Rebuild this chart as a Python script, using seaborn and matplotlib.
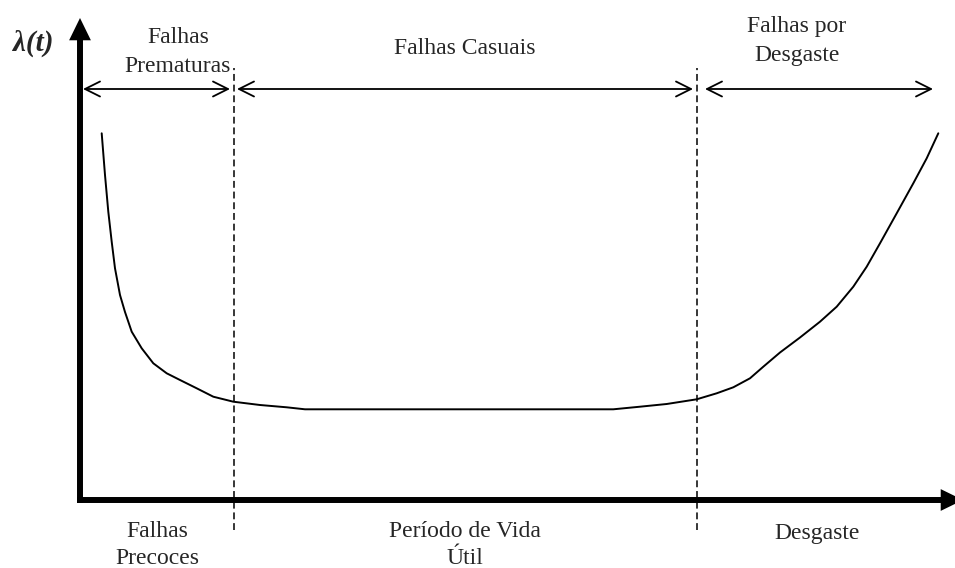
import matplotlib
matplotlib.use("Agg")
import matplotlib.pyplot as plt
import seaborn as sns
import pandas as pd

# Bathtub curve (time units = px from origin, lambda units = px above axis)
t_values = [21.7, 25, 28.3, 31.7, 35, 40, 45, 51.7, 61.7, 73.3, 86.7, 100,
            116.7, 133.3, 153.3, 180, 206.7, 225,
            533.3, 560, 586.7, 616.7, 636.7, 653.3, 670, 683.3, 700, 720,
            740, 756.7, 773.3, 786.7, 800, 816.7, 833.3, 846.7, 858.3]
lam_values = [366.7, 325, 288.3, 258.3, 231.7, 205, 188, 168.3, 151.7, 136.7, 126.7, 120,
              111.7, 103.3, 98.3, 95, 92.7, 90.7,
              90.7, 93.3, 96, 100.7, 106.7, 112.7, 121.7, 133.3, 147.5, 162.5,
              178.3, 193.3, 213.3, 233.3, 256.7, 286.7, 316.7, 341.7, 366.7]

phase_bounds = [154, 617]          # dashed separators
top_labels = ["Falhas\nPrematuras", "Falhas Casuais", "Falhas por\nDesgaste"]
bottom_labels = ["Falhas\nPrecoces", "Período de Vida\nÚtil", "Desgaste"]
y_label = "λ(t)"

sns.set_theme(style="white")
plt.rcParams["font.family"] = ["Liberation Serif", "DejaVu Serif"]

fig = plt.figure(figsize=(9.55, 5.68), dpi=100)
ax = fig.add_axes([0, 0, 1, 1])
ax.set_xlim(-80, 875)
ax.set_ylim(-68, 500)
ax.axis("off")

df = pd.DataFrame({"t": t_values, "lam": lam_values})
sns.lineplot(data=df, x="t", y="lam", sort=False, color="black", lw=1.4, ax=ax)

# axes with arrows
axis_arrow = dict(arrowstyle="-|>,head_length=0.45,head_width=0.22",
                  lw=4.3, color="black", shrinkA=0, shrinkB=0,
                  mutation_scale=20, capstyle="butt", joinstyle="miter")
ax.annotate("", xy=(0, 482), xytext=(0, -3), arrowprops=axis_arrow,
            annotation_clip=False)
ax.annotate("", xy=(883, 0), xytext=(-3, 0), arrowprops=axis_arrow,
            annotation_clip=False)

# dashed separators
for xb in phase_bounds:
    ax.plot([xb, xb], [-30, 432], color="black", lw=1.1, ls=(0, (4.5, 2.5)))

# double arrows
spans = [(3, 150), (157, 613), (625, 853)]
for a, b in spans:
    ax.annotate("", xy=(b, 411), xytext=(a, 411),
                arrowprops=dict(arrowstyle="<->,head_length=0.9,head_width=0.45",
                                lw=1.3, color="black", shrinkA=0, shrinkB=0,
                                mutation_scale=12))

fs = 17
ls = 1.5
ax.text(98, 448, top_labels[0], ha="center", va="center", fontsize=fs, linespacing=ls)
ax.text(385, 451, top_labels[1], ha="center", va="center", fontsize=fs)
ax.text(717, 459, top_labels[2], ha="center", va="center", fontsize=fs, linespacing=ls)

ax.text(77, -21, bottom_labels[0], ha="center", va="top", fontsize=fs, linespacing=1.4)
ax.text(385, -21, bottom_labels[1], ha="center", va="top", fontsize=fs, linespacing=1.4)
ax.text(737, -33, bottom_labels[2], ha="center", va="center", fontsize=fs)

ax.text(-47, 457, y_label, ha="center", va="center", fontsize=21,
        fontweight="bold", fontstyle="italic")

fig.savefig("out.png", dpi=100)
